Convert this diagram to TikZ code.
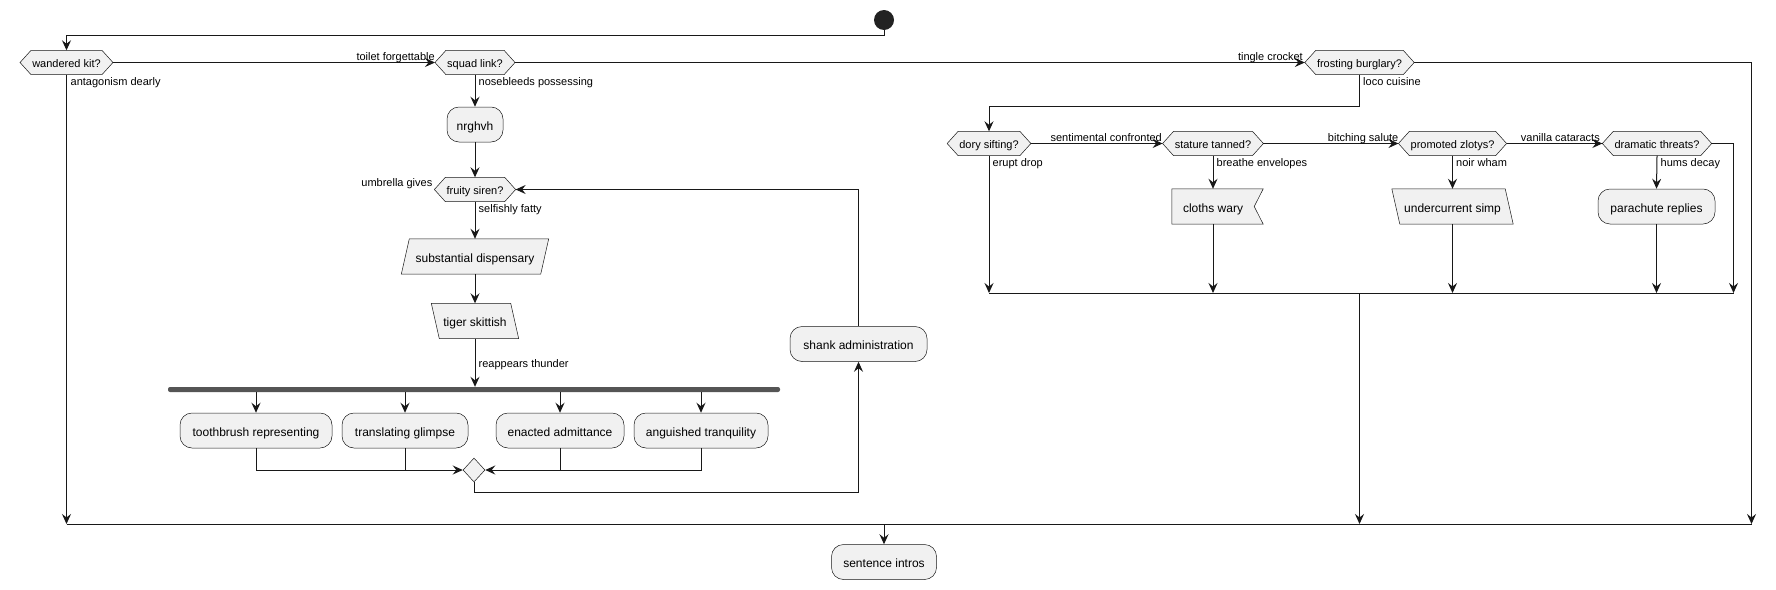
\documentclass[tikz,border=0pt]{standalone}
\usepackage{fontspec}
\setmainfont{Liberation Sans}
\usetikzlibrary{shapes.geometric,arrows.meta,backgrounds,calc}
\definecolor{boxfill}{HTML}{F1F1F1}
\definecolor{ink}{HTML}{181818}
\definecolor{barc}{HTML}{555555}
\definecolor{dotc}{HTML}{222222}
\tikzset{
  flow/.style={draw=ink, line width=1pt},
  arr/.style={flow, -{Stealth[length=10pt,width=9pt,inset=3.5pt]}},
  shapeline/.style={fill=boxfill, draw=ink, line width=0.5pt},
  hextext/.style={font=\fontsize{11}{13}\selectfont, inner xsep=12pt, inner ysep=0pt, minimum height=24pt, text height=9pt, text depth=0pt},
  acttext/.style={font=\fontsize{12}{14}\selectfont, inner xsep=6pt, inner ysep=0pt, minimum height=35pt, text height=11pt, text depth=0pt},
  actbox/.style={acttext, shapeline, rounded corners=12pt},
  lbl/.style={font=\fontsize{11}{13}\selectfont, inner sep=0pt},
  forkbar/.style={fill=barc, minimum width=612pt, minimum height=5pt, inner sep=0pt, rounded corners=2pt},
  mergedia/.style={diamond, shapeline, minimum width=22pt, minimum height=24pt, inner sep=0pt},
  startdot/.style={circle, fill=dotc, minimum size=20pt, inner sep=0pt},
}
% hexagon decision node: name, x, y, text
\newcommand\hexnode[4]{%
  \node[hextext] (#1) at (#2,#3) {#4};
  \begin{pgfonlayer}{background}
    \filldraw[shapeline] (#1.west) -- ([xshift=11pt]#1.north west) -- ([xshift=-11pt]#1.north east) -- (#1.east) -- ([xshift=-11pt]#1.south east) -- ([xshift=11pt]#1.south west) -- cycle;
  \end{pgfonlayer}}
% parallelogram: name, x, y, text, top shift, bottom shift, width
\newcommand\paranode[7]{%
  \node[acttext, minimum width=#7] (#1) at (#2,#3) {#4};
  \begin{pgfonlayer}{background}
    \filldraw[shapeline] ([xshift=#5]#1.north west) -- ([xshift=#5]#1.north east) -- ([xshift=#6]#1.south east) -- ([xshift=#6]#1.south west) -- cycle;
  \end{pgfonlayer}}
% notched (receive) box: name, x, y, text
\newcommand\flagnode[4]{%
  \node[acttext, inner xsep=11pt] (#1) at (#2,#3) {#4};
  \begin{pgfonlayer}{background}
    \filldraw[shapeline] (#1.north west) -- ([xshift=9pt]#1.north east) -- (#1.east) -- ([xshift=9pt]#1.south east) -- (#1.south west) -- cycle;
  \end{pgfonlayer}}
\begin{document}
\begin{tikzpicture}[x=1pt,y=-1pt]
\useasboundingbox (0,0) rectangle (1776,589);
\begin{pgfonlayer}{background}\fill[white] (0,0) rectangle (1776,589);\end{pgfonlayer}

% nodes
\node[startdot] (start) at (884,20) {};
\hexnode{wk}{66.5}{62.5}{wandered kit?}
\hexnode{sq}{475}{62.5}{squad link?}
\hexnode{fb}{1359.5}{62.5}{frosting burglary?}
\node[actbox, minimum width=56pt] (nr) at (475,124.5) {nrghvh};
\hexnode{fs}{475}{189.5}{fruity siren?}
\paranode{sd}{475}{256.5}{substantial dispensary}{4pt}{-4pt}{139pt}
\paranode{ts}{475}{321}{tiger skittish}{-4pt}{4pt}{79pt}
\node[forkbar] (fork) at (474,389.5) {};
\node[actbox, minimum width=152pt] (tb) at (256,430.5) {toothbrush representing};
\node[actbox, minimum width=126pt] (tg) at (405,430.5) {translating glimpse};
\node[actbox, minimum width=128pt] (ea) at (560,430.5) {enacted admittance};
\node[actbox, minimum width=134pt] (ag) at (701,430.5) {anguished tranquility};
\node[mergedia] (mg) at (474,470) {};
\node[actbox, minimum width=137pt] (sa) at (858.5,344) {shank administration};
\hexnode{ds}{989}{143.5}{dory sifting?}
\hexnode{st}{1213}{143.5}{stature tanned?}
\hexnode{pz}{1452.5}{143.5}{promoted zlotys?}
\hexnode{dt}{1657}{143.5}{dramatic threats?}
\flagnode{cw}{1213}{206.5}{cloths wary}
\paranode{us}{1452.5}{206.5}{undercurrent simp}{-4pt}{4pt}{113pt}
\node[actbox, minimum width=117pt] (pr) at (1656.5,206.5) {parachute replies};
\node[actbox, minimum width=105pt] (si) at (884,562) {sentence intros};

% junction points
\coordinate (topj) at (0,35);
\coordinate (mL) at (66.5,524);
\coordinate (mR) at (1751.5,524);
\coordinate (mC) at (884,524);
\coordinate (lp) at (858.5,492);
\coordinate (fbj) at (989,106);
\coordinate (nL) at (989,293);
\coordinate (nR) at (1733.5,293);
\coordinate (nC) at (1359.5,293);

% connectors
\draw[arr] (start.south) -- (start.south |- topj) -| (wk.north);
\draw[arr] (wk.east) -- (sq.west);
\draw[arr] (sq.east) -- (fb.west);
\draw[arr] (fb.east) -| (mR);
\draw[arr] (wk.south) -- (mL);
\draw[flow] (mL) -- (mR);
\draw[arr] (mC) -- (si.north);
\draw[arr] (sq.south) -- (nr.north);
\draw[arr] (nr.south) -- (fs.north);
\draw[arr] (fs.south) -- (sd.north);
\draw[arr] (sd.south) -- (ts.north);
\draw[arr] (ts.south) -- (ts.south |- fork.north);
\foreach \b in {tb,tg,ea,ag} \draw[arr] (\b.north |- fork.south) -- (\b.north);
\draw[arr] (tb.south) |- (mg.west);
\draw[flow] (tg.south) -- (tg.south |- mg.west);
\draw[arr] (ag.south) |- (mg.east);
\draw[flow] (ea.south) -- (ea.south |- mg.east);
\draw[arr] (mg.south) |- (lp) -- (sa.south);
\draw[arr] (sa.north) |- (fs.east);
\draw[arr] (fb.south) |- (fbj) -- (ds.north);
\draw[arr] (ds.east) -- (st.west);
\draw[arr] (st.east) -- (pz.west);
\draw[arr] (pz.east) -- (dt.west);
\draw[arr] (ds.south) -- (nL);
\draw[arr] (st.south) -- (cw.north);
\draw[arr] (cw.south) -- (cw.south |- nL);
\draw[arr] (pz.south) -- (us.north);
\draw[arr] (us.south) -- (us.south |- nL);
\draw[arr] (dt.south) -- (pr.north);
\draw[arr] (pr.south) -- (pr.south |- nL);
\draw[arr] (dt.east) -| (nR);
\draw[flow] (nL) -- (nR);
\draw[arr] (nC) -- (nC |- mL);

% labels
\node[lbl, anchor=base east] (l1) at (435,60) {toilet forgettable};
\node[lbl, anchor=base west] (l2) at (70.5,85.5) {antagonism dearly};
\node[lbl, anchor=base west] (l3) at (478.5,85.5) {nosebleeds possessing};
\node[lbl, anchor=base east] (l4) at (1303,60) {tingle crocket};
\node[lbl, anchor=base west] (l5) at (1363,85.5) {loco cuisine};
\node[lbl, anchor=base east] (l6) at (432.5,186.5) {umbrella gives};
\node[lbl, anchor=base west] (l7) at (478.5,212.5) {selfishly fatty};
\node[lbl, anchor=base west] (l8) at (478.5,367) {reappears thunder};
\node[lbl, anchor=base west] (l9) at (992.5,166.5) {erupt drop};
\node[lbl, anchor=base east] (l10) at (1162,141) {sentimental confronted};
\node[lbl, anchor=base west] (l11) at (1216.5,166.5) {breathe envelopes};
\node[lbl, anchor=base east] (l12) at (1398.5,141) {bitching salute};
\node[lbl, anchor=base west] (l13) at (1456,166.5) {noir wham};
\node[lbl, anchor=base east] (l14) at (1600,141) {vanilla cataracts};
\node[lbl, anchor=base west] (l15) at (1660.5,166.5) {hums decay};
\end{tikzpicture}
\end{document}
